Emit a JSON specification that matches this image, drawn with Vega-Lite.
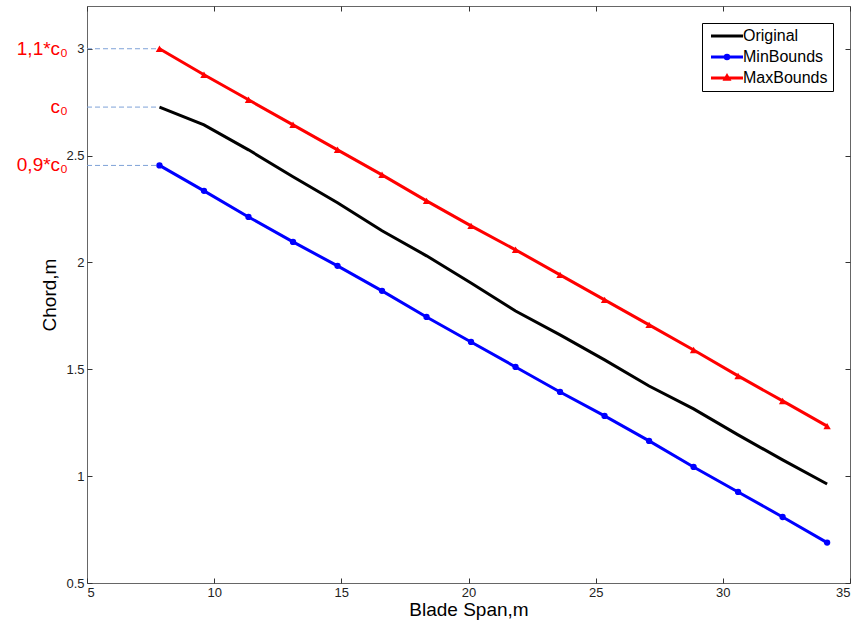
{
  "$schema": "https://vega.github.io/schema/vega-lite/v6.json",
  "width": 763,
  "height": 577,
  "autosize": "none",
  "padding": {"left": 87, "top": 6, "right": 7, "bottom": 42},
  "background": "white",
  "config": {
    "view": {"stroke": "#666", "strokeWidth": 1},
    "font": "Liberation Sans",
    "axis": {
      "grid": false,
      "domain": false,
      "ticks": true,
      "tickColor": "#333",
      "tickWidth": 1,
      "tickSize": 5,
      "offset": -5,
      "labelFont": "Liberation Sans",
      "labelFontSize": 13,
      "labelColor": "#222",
      "titleFont": "Liberation Sans",
      "titleFontSize": 19,
      "titleFontWeight": "normal",
      "titleColor": "#000"
    }
  },
  "datasets": {
    "curves": [
      {"span": 7.85, "chord": 2.727, "series": "Original"},
      {"span": 9.6, "chord": 2.644, "series": "Original"},
      {"span": 11.35, "chord": 2.527, "series": "Original"},
      {"span": 13.1, "chord": 2.401, "series": "Original"},
      {"span": 14.85, "chord": 2.279, "series": "Original"},
      {"span": 16.6, "chord": 2.148, "series": "Original"},
      {"span": 18.35, "chord": 2.031, "series": "Original"},
      {"span": 20.1, "chord": 1.904, "series": "Original"},
      {"span": 21.85, "chord": 1.773, "series": "Original"},
      {"span": 23.6, "chord": 1.661, "series": "Original"},
      {"span": 25.35, "chord": 1.544, "series": "Original"},
      {"span": 27.1, "chord": 1.422, "series": "Original"},
      {"span": 28.85, "chord": 1.315, "series": "Original"},
      {"span": 30.6, "chord": 1.193, "series": "Original"},
      {"span": 32.35, "chord": 1.076, "series": "Original"},
      {"span": 34.1, "chord": 0.963, "series": "Original"},
      {"span": 7.85, "chord": 2.454, "series": "MinBounds"},
      {"span": 9.6, "chord": 2.335, "series": "MinBounds"},
      {"span": 11.35, "chord": 2.213, "series": "MinBounds"},
      {"span": 13.1, "chord": 2.096, "series": "MinBounds"},
      {"span": 14.85, "chord": 1.984, "series": "MinBounds"},
      {"span": 16.6, "chord": 1.867, "series": "MinBounds"},
      {"span": 18.35, "chord": 1.745, "series": "MinBounds"},
      {"span": 20.1, "chord": 1.628, "series": "MinBounds"},
      {"span": 21.85, "chord": 1.511, "series": "MinBounds"},
      {"span": 23.6, "chord": 1.394, "series": "MinBounds"},
      {"span": 25.35, "chord": 1.282, "series": "MinBounds"},
      {"span": 27.1, "chord": 1.165, "series": "MinBounds"},
      {"span": 28.85, "chord": 1.043, "series": "MinBounds"},
      {"span": 30.6, "chord": 0.926, "series": "MinBounds"},
      {"span": 32.35, "chord": 0.809, "series": "MinBounds"},
      {"span": 34.1, "chord": 0.689, "series": "MinBounds"},
      {"span": 7.85, "chord": 3.0, "series": "MaxBounds"},
      {"span": 9.6, "chord": 2.878, "series": "MaxBounds"},
      {"span": 11.35, "chord": 2.761, "series": "MaxBounds"},
      {"span": 13.1, "chord": 2.644, "series": "MaxBounds"},
      {"span": 14.85, "chord": 2.527, "series": "MaxBounds"},
      {"span": 16.6, "chord": 2.41, "series": "MaxBounds"},
      {"span": 18.35, "chord": 2.288, "series": "MaxBounds"},
      {"span": 20.1, "chord": 2.171, "series": "MaxBounds"},
      {"span": 21.85, "chord": 2.059, "series": "MaxBounds"},
      {"span": 23.6, "chord": 1.942, "series": "MaxBounds"},
      {"span": 25.35, "chord": 1.825, "series": "MaxBounds"},
      {"span": 27.1, "chord": 1.708, "series": "MaxBounds"},
      {"span": 28.85, "chord": 1.59, "series": "MaxBounds"},
      {"span": 30.6, "chord": 1.469, "series": "MaxBounds"},
      {"span": 32.35, "chord": 1.352, "series": "MaxBounds"},
      {"span": 34.1, "chord": 1.234, "series": "MaxBounds"}
    ],
    "refs": [
      {"span": 7.85, "start": 5, "chord": 3.0, "label": "1,1*c₀"},
      {"span": 7.85, "start": 5, "chord": 2.727, "label": "c₀"},
      {"span": 7.85, "start": 5, "chord": 2.454, "label": "0,9*c₀"}
    ]
  },
  "resolve": {"axis": {"x": "independent", "y": "independent"}},
  "layer": [
    {
      "data": {"name": "refs"},
      "mark": {"type": "rule", "strokeDash": [5, 3], "color": "#7fa3d8", "strokeWidth": 1},
      "encoding": {
        "x": {"field": "start", "type": "quantitative", "scale": {"domain": [5, 35], "nice": false, "zero": false}, "axis": null},
        "x2": {"field": "span"},
        "y": {"field": "chord", "type": "quantitative", "scale": {"domain": [0.5, 3.2], "nice": false, "zero": false}, "axis": null}
      }
    },
    {
      "data": {"name": "refs"},
      "mark": {"type": "text", "align": "right", "baseline": "middle", "dx": -19, "fontSize": 19, "color": "#ff0000", "font": "Liberation Sans"},
      "encoding": {
        "x": {"field": "start", "type": "quantitative", "axis": null},
        "y": {"field": "chord", "type": "quantitative", "axis": null},
        "text": {"field": "label", "type": "nominal"}
      }
    },
    {
      "data": {"name": "curves"},
      "mark": {"type": "point", "filled": true, "size": 100, "opacity": 0},
      "encoding": {
        "x": {"field": "span", "type": "quantitative", "axis": {"orient": "top", "title": null, "labels": false, "ticks": true, "tickSize": 5, "values": [5, 10, 15, 20, 25, 30, 35]}},
        "y": {"field": "chord", "type": "quantitative", "axis": {"orient": "right", "title": null, "labels": false, "ticks": true, "tickSize": 5, "values": [0.5, 1, 1.5, 2, 2.5, 3]}},
        "color": {"field": "series", "type": "nominal", "scale": {"domain": ["Original", "MinBounds", "MaxBounds"], "range": ["#000000", "#0000ff", "#ff0000"]},
          "legend": {"orient": "top-right", "offset": 17, "title": null, "strokeColor": "#000", "fillColor": "white", "padding": 5,
            "labelFontSize": 16, "labelColor": "#000", "rowPadding": 5, "symbolOffset": 12, "labelOffset": 8, "symbolSize": 100, "symbolOpacity": 1, "symbolStrokeWidth": 2}},
        "shape": {"field": "series", "type": "nominal", "scale": {"domain": ["Original", "MinBounds", "MaxBounds"],
          "range": ["M-3,-0.1H3V0.1H-3Z", "M-3,-0.1H3V0.1H-3Z M-0.45,0A0.45,0.45,0,1,1,0.45,0A0.45,0.45,0,1,1,-0.45,0Z", "M-3,-0.1H3V0.1H-3Z M0,-0.6L0.55,0.35H-0.55Z"]}}
      }
    },
    {
      "data": {"name": "curves"},
      "mark": {"type": "line", "strokeWidth": 3},
      "encoding": {
        "x": {"field": "span", "type": "quantitative",
          "axis": {"orient": "bottom", "title": "Blade Span,m", "values": [5, 10, 15, 20, 25, 30, 35], "format": "~g", "ticks": true, "tickSize": 5, "labelPadding": 3, "titlePadding": 1}},
        "y": {"field": "chord", "type": "quantitative",
          "axis": {"orient": "left", "title": "Chord,m", "values": [0.5, 1, 1.5, 2, 2.5, 3], "format": "~g", "ticks": true, "tickSize": 5, "labelPadding": 3, "titlePadding": 6}},
        "stroke": {"field": "series", "type": "nominal", "scale": {"domain": ["Original", "MinBounds", "MaxBounds"], "range": ["#000000", "#0000ff", "#ff0000"]}, "legend": null}
      }
    },
    {
      "data": {"name": "curves"},
      "transform": [{"filter": "datum.series === 'MinBounds'"}],
      "mark": {"type": "point", "filled": true, "shape": "circle", "size": 40, "color": "#0000ff", "opacity": 1},
      "encoding": {
        "x": {"field": "span", "type": "quantitative", "axis": null},
        "y": {"field": "chord", "type": "quantitative", "axis": null}
      }
    },
    {
      "data": {"name": "curves"},
      "transform": [{"filter": "datum.series === 'MaxBounds'"}],
      "mark": {"type": "point", "filled": true, "shape": "triangle-up", "size": 55, "color": "#ff0000", "opacity": 1},
      "encoding": {
        "x": {"field": "span", "type": "quantitative", "axis": null},
        "y": {"field": "chord", "type": "quantitative", "axis": null}
      }
    }
  ]
}
